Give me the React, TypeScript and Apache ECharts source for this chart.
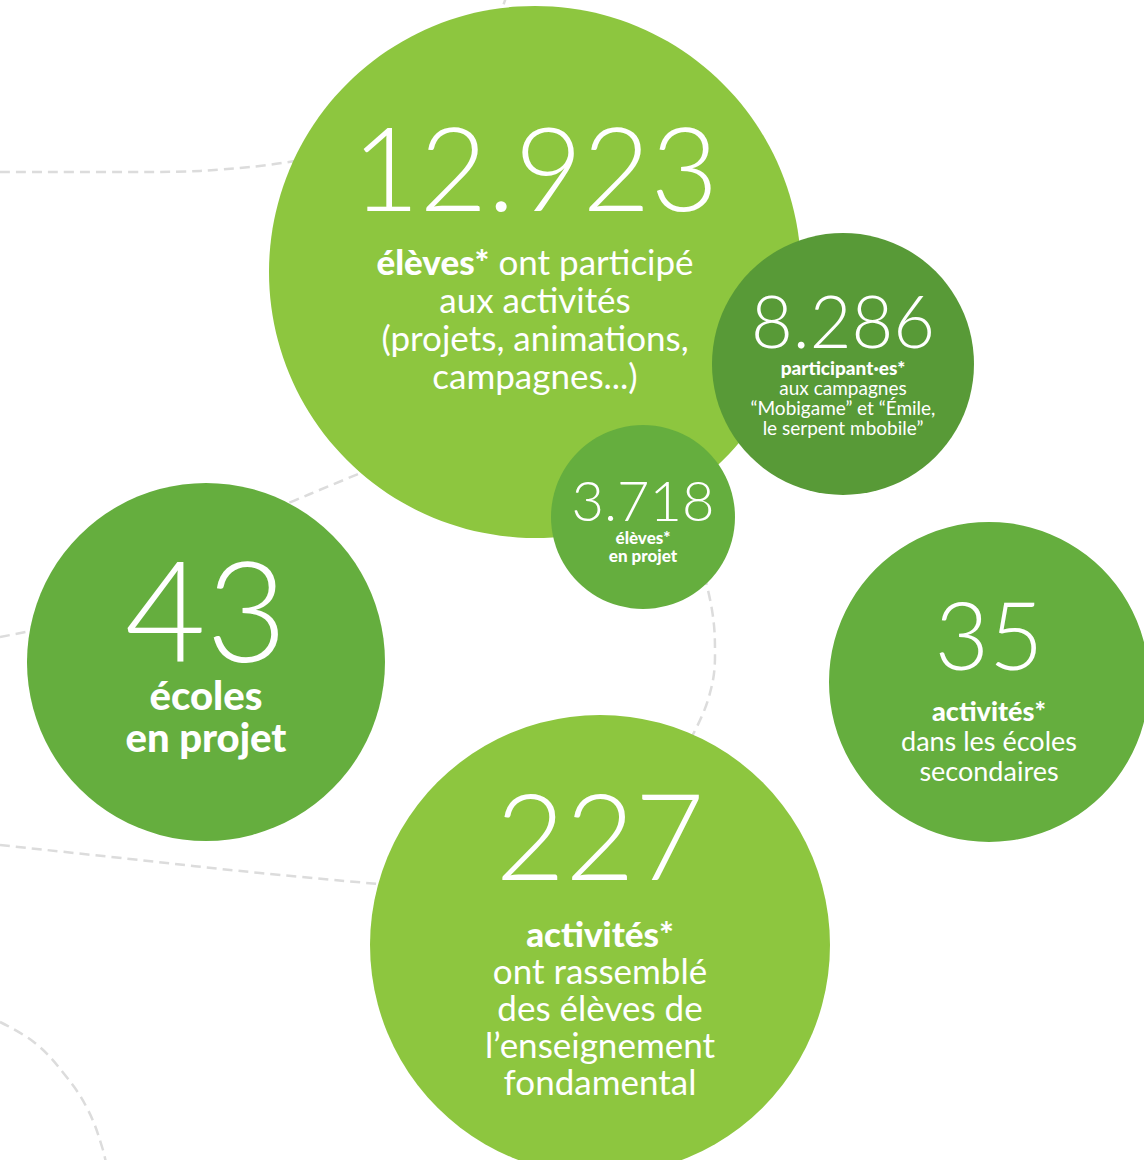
import React, { useEffect, useRef } from "react";
import * as echarts from "echarts";

// ---- data ----
const statValues = [12923, 8286, 3718, 43, 35, 227];
const circleX = [535, 843, 643, 206, 989, 600];
const circleY = [272, 364, 517, 662, 682, 945];
const circleRadius = [266, 131, 92, 179, 160, 230];
const circleColors = ["#8dc63f", "#589a37", "#65ae3e", "#65ae3e", "#65ae3e", "#8dc63f"];
// each line: [bold part, regular part]
const circleDescriptions: string[][][] = [
  [["élèves*", " ont participé"], ["", "aux activités"], ["", "(projets, animations,"], ["", "campagnes...)"]],
  [["participant·es*", ""], ["", "aux campagnes"], ["", "“Mobigame” et “Émile,"], ["", "le serpent mbobile”"]],
  [["élèves*", ""], ["en projet", ""]],
  [["écoles", ""], ["en projet", ""]],
  [["activités*", ""], ["", "dans les écoles"], ["", "secondaires"]],
  [["activités*", ""], ["", "ont rassemblé"], ["", "des élèves de"], ["", "l’enseignement"], ["", "fondamental"]],
];
// typography per circle
const numberSizes = [117, 72, 56, 140, 94, 120];
const numberLineHeights = [152, 74, 58, 132, 124, 161];
const textSizes = [35, 19, 17, 40, 27, 35];
const textLineHeights = [38, 20, 18, 42, 30, 37];
const labelOffsets = [-30, -4, 0, -12, -4, -19];

// dashed connectors (background decoration)
const connectorPaths: number[][][] = [
  [[0, 172], [150, 172], [250, 167], [330, 155]],
  [[507, -5], [500, 15], [495, 35]],
  [[0, 637], [40, 629], [80, 620]],
  [[260, 515], [310, 494], [380, 465]],
  [[0, 845], [130, 859], [260, 873], [390, 885]],
  [[0, 1022], [35, 1043], [65, 1075], [88, 1110], [103, 1150], [107, 1170]],
  [[700, 560], [712, 610], [715, 655], [708, 700], [690, 740]],
];

const formatNumber = (n: number) => String(n).replace(/\B(?=(\d{3})+(?!\d))/g, ".");

const FONT = "Lato";

export default function App() {
  const ref = useRef<HTMLDivElement>(null);
  useEffect(() => {
    if (!ref.current) return;
    const chart = echarts.init(ref.current, undefined, { renderer: "svg" });

    const scatterData = statValues.map((v, i) => {
      const lines = circleDescriptions[i].map(([b, t]) => {
        let s = "";
        if (b) s += `{b|${b}}`;
        if (t) s += `{t|${t}}`;
        return s;
      });
      const formatter = [`{n|${formatNumber(v)}}`, ...lines].join("\n");
      return {
        value: [circleX[i], circleY[i], v],
        symbolSize: circleRadius[i] * 2,
        itemStyle: { color: circleColors[i], opacity: 1 },
        label: {
          show: true,
          position: "inside",
          offset: [0, labelOffsets[i]],
          formatter,
          align: "center",
          rich: {
            n: {
              fontFamily: FONT,
              fontWeight: 300,
              fontSize: numberSizes[i],
              lineHeight: numberLineHeights[i],
              color: "#ffffff",
              align: "center",
            },
            b: {
              fontFamily: FONT,
              fontWeight: 900,
              fontSize: textSizes[i],
              lineHeight: textLineHeights[i],
              color: "#ffffff",
              align: "center",
            },
            t: {
              fontFamily: FONT,
              fontWeight: 400,
              fontSize: textSizes[i],
              lineHeight: textLineHeights[i],
              color: "#ffffff",
              align: "center",
            },
          },
        },
      };
    });

    const lineSeries = connectorPaths.map((p) => ({
      type: "line",
      data: p,
      smooth: 0.4,
      symbol: "none",
      silent: true,
      clip: false,
      z: 1,
      lineStyle: { color: "#dcdcdc", width: 2.5, type: [10, 6] },
    }));

    chart.setOption({
      animation: false,
      backgroundColor: "#ffffff",
      grid: { left: 0, right: 0, top: 0, bottom: 0, containLabel: false },
      xAxis: { type: "value", min: 0, max: 1144, show: false },
      yAxis: { type: "value", min: 0, max: 1160, inverse: true, show: false },
      series: [
        ...lineSeries,
        {
          type: "scatter",
          symbol: "circle",
          clip: false,
          silent: true,
          z: 5,
          itemStyle: { opacity: 1 },
          data: scatterData,
          emphasis: { disabled: true },
        },
      ],
    });
    return () => chart.dispose();
  }, []);
  return (
    <div
      ref={ref}
      style={{ position: "absolute", left: 0, top: 0, width: 1144, height: 1160 }}
    />
  );
}
